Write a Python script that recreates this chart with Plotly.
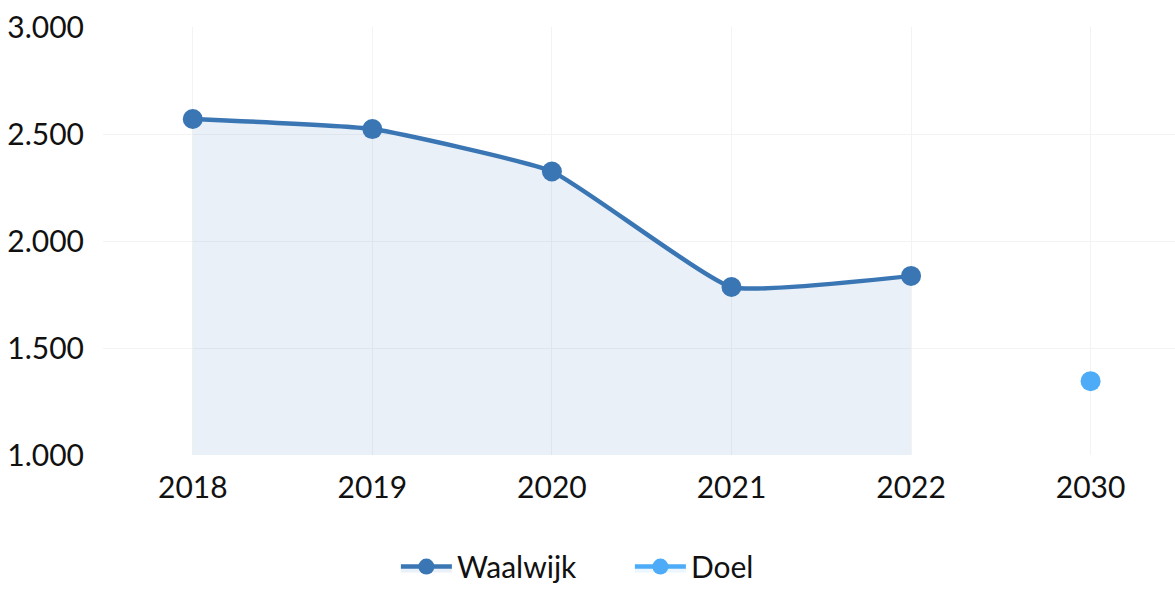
import plotly.graph_objects as go

categories = ["2018", "2019", "2020", "2021", "2022", "2030"]
waalwijk_x = ["2018", "2019", "2020", "2021", "2022"]
waalwijk_y = [2570, 2523, 2325, 1785, 1837]
doel_x = ["2030"]
doel_y = [1345]
y_ticks = [1000, 1500, 2000, 2500, 3000]
y_labels = ["1.000", "1.500", "2.000", "2.500", "3.000"]

fig = go.Figure()
fig.add_trace(go.Scatter(
    x=waalwijk_x, y=waalwijk_y, name="Waalwijk",
    mode="lines+markers", line=dict(color="#3a76b4", width=4.5, shape="spline", smoothing=0.4),
    marker=dict(size=20, color="#3a76b4"),
    fill="tozeroy", fillcolor="rgba(58,118,180,0.11)",
))
fig.add_trace(go.Scatter(
    x=doel_x, y=doel_y, name="Doel",
    mode="lines+markers", line=dict(color="#4dabf7", width=4.5),
    marker=dict(size=20, color="#4dabf7"),
    fill="tozeroy", fillcolor="rgba(77,171,247,0.11)",
))

fig.update_layout(
    width=1175, height=592,
    margin=dict(l=103, r=0, t=27, b=137, autoexpand=False),
    paper_bgcolor="white", plot_bgcolor="white",
    font=dict(family="Lato", size=30, color="#111111"),
    showlegend=True,
    legend=dict(orientation="h", x=0.4915, xanchor="center", y=-0.2, yanchor="top",
                font=dict(size=30), itemwidth=51, entrywidth=168, entrywidthmode="pixels"),
    xaxis=dict(type="category", categoryorder="array", categoryarray=categories,
               range=[-0.5, 5.47], showgrid=True, gridcolor="#f3f3f3", automargin=False,
               zeroline=False, showline=False, ticks="", ticklabelstandoff=12),
    yaxis=dict(range=[1000, 3000], tickvals=y_ticks, ticktext=y_labels, automargin=False,
               showgrid=True, gridcolor="#f3f3f3", zeroline=False, showline=False,
               ticks="", ticklabelstandoff=18),
)
fig.write_html("out.html", config={"displayModeBar": False},
               post_script="document.body.style.margin='0';")
